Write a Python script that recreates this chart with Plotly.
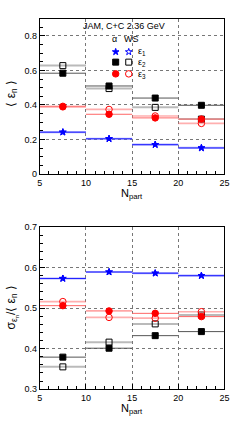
import plotly.graph_objects as go

bin_lo = [5, 10, 15, 20]
bin_hi = [10, 15, 20, 25]
npart = [7.5, 12.5, 17.5, 22.5]

# top panel: <eps_n>
e1_alpha = [0.242, 0.204, 0.170, 0.151]
e1_ws = [0.242, 0.204, 0.170, 0.151]
e2_alpha = [0.584, 0.510, 0.440, 0.398]
e2_ws = [0.628, 0.495, 0.386, 0.318]
e3_alpha = [0.389, 0.346, 0.325, 0.318]
e3_ws = [0.392, 0.374, 0.336, 0.293]

# bottom panel: sigma/<eps_n>
r1_alpha = [0.573, 0.589, 0.586, 0.580]
r1_ws = [0.573, 0.589, 0.586, 0.580]
r2_alpha = [0.379, 0.401, 0.432, 0.442]
r2_ws = [0.355, 0.416, 0.461, 0.483]
r3_alpha = [0.506, 0.493, 0.487, 0.479]
r3_ws = [0.516, 0.477, 0.475, 0.491]

fig = go.Figure()

def segs(vals):
    xs, ys = [], []
    for lo, hi, v in zip(bin_lo, bin_hi, vals):
        xs += [lo, hi, None]
        ys += [v, v, None]
    return xs, ys

series = [
    (e2_ws, r2_ws, "rgba(140,140,140,0.6)", 2.0, "square-open", "black", 6),
    (e2_alpha, r2_alpha, "#555555", 1.0, "square", "black", 6),
    (e3_ws, r3_ws, "rgba(255,110,110,0.55)", 1.7, "circle-open", "red", 6.5),
    (e3_alpha, r3_alpha, "#ff6666", 1.0, "circle", "red", 6.5),
    (e1_ws, r1_ws, "rgba(110,110,255,0.55)", 2.2, "star-open", "blue", 5),
    (e1_alpha, r1_alpha, "#2222ff", 1.0, "star", "blue", 5),
]

for top, bot, lc, lw, sym, mc, ms in series:
    for vals, xa, ya in [(top, "x", "y"), (bot, "x2", "y2")]:
        xs, ys = segs(vals)
        fig.add_trace(go.Scatter(x=xs, y=ys, mode="lines", line=dict(color=lc, width=lw),
                                 xaxis=xa, yaxis=ya, showlegend=False, hoverinfo="skip"))
    for vals, xa, ya in [(top, "x", "y"), (bot, "x2", "y2")]:
        fig.add_trace(go.Scatter(x=npart, y=vals, mode="markers",
                                 marker=dict(symbol=sym, color=mc, size=ms,
                                             line=dict(color=mc, width=1)),
                                 xaxis=xa, yaxis=ya, showlegend=False))

xd = [38/244, 229/244]
axis_common = dict(showline=True, mirror=True, linecolor="black", linewidth=1,
                   ticks="inside", ticklen=5, tickcolor="black",
                   showgrid=True, gridcolor="#777777", griddash="dot", gridwidth=1,
                   zeroline=False, tickfont=dict(family="Liberation Sans, Arial", size=9, color="black"),
                   minor=dict(ticks="inside", ticklen=3, tickcolor="black", showgrid=False))

fig.update_layout(
    width=244, height=430, margin=dict(l=0, r=0, t=0, b=0),
    paper_bgcolor="white", plot_bgcolor="rgba(0,0,0,0)",
    xaxis=dict(domain=xd, range=[5, 25], dtick=5, anchor="y", **axis_common),
    yaxis=dict(domain=[1-173/430, 1-14/430], range=[0, 0.9], tickvals=[0, 0.2, 0.4, 0.6, 0.8],
               ticktext=["0", "0.2", "0.4", "0.6", "0.8"], anchor="x", **axis_common),
    xaxis2=dict(domain=xd, range=[5, 25], dtick=5, anchor="y2", **axis_common),
    yaxis2=dict(domain=[1-393.3/430, 1-227.3/430], range=[0.3, 0.7], dtick=0.1,
                tickformat=".1f", anchor="x2", **axis_common),
    xaxis3=dict(domain=[0, 1], range=[0, 1], visible=False, anchor="y3", fixedrange=True),
    yaxis3=dict(domain=[0, 1], range=[0, 1], visible=False, anchor="x3", fixedrange=True),
    font=dict(family="Liberation Sans, Arial", color="black"),
)

def px(x, y, text, size=11, angle=0, xanchor="center", yanchor="middle"):
    fig.add_annotation(x=x/244, y=1-y/430, xref="paper", yref="paper", text=text,
                       showarrow=False, textangle=angle, xanchor=xanchor, yanchor=yanchor,
                       font=dict(size=size, color="black", family="Liberation Sans, Arial"))

px(125, 21, "JAM, C+C 2.36 GeV", size=9)
px(115, 35, "α", size=9)
px(133, 35, "WS", size=9)
px(137, 48, "ε<sub>1</sub>", size=9, xanchor="left")
px(137, 59, "ε<sub>2</sub>", size=9, xanchor="left")
px(137, 71, "ε<sub>3</sub>", size=9, xanchor="left")
px(133, 193, "N<sub>part</sub>", size=11)
px(133, 414, "N<sub>part</sub>", size=11)
px(9, 90, "⟨ ε<sub>n</sub> ⟩", size=12, angle=-90)
px(9, 310, "σ<sub>ε<sub>n</sub></sub>/⟨ ε<sub>n</sub> ⟩", size=12, angle=-90)

leg = [(48, "star", "star-open", "blue", 5), (58.5, "square", "square-open", "black", 6),
       (70.5, "circle", "circle-open", "red", 6.5)]
for yy, s1, s2, c, ms in leg:
    fig.add_trace(go.Scatter(x=[116.5/244, 130/244], y=[1-yy/430, 1-yy/430], mode="markers",
                             marker=dict(symbol=[s1, s2], color=c, size=ms,
                                         line=dict(color=c, width=1)),
                             xaxis="x3", yaxis="y3", showlegend=False, hoverinfo="skip"))

fig.write_html("out.html", config={"displayModeBar": False},
               post_script="document.body.style.margin='0';document.body.style.overflow='hidden';")
